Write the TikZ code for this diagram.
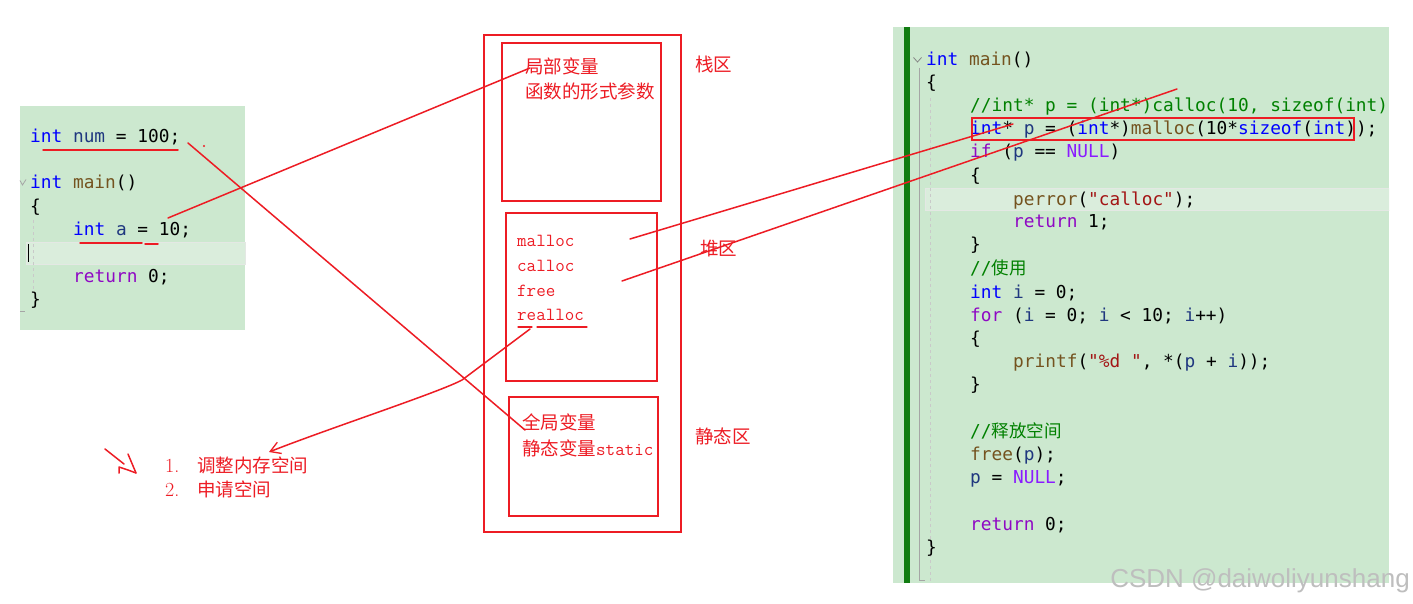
\documentclass[tikz,border=0pt]{standalone}
\usepackage{fontspec}
\newfontfamily\cjk{Noto Sans CJK SC}
\newfontfamily\codefont[Ligatures=TeXOff]{DejaVu Sans Mono}
\newfontfamily\wmfont{Liberation Sans}
\usetikzlibrary{arrows.meta}
\definecolor{bggreen}{RGB}{204,232,207}
\definecolor{hlgreen}{RGB}{218,237,220}
\definecolor{hlborder}{RGB}{228,232,228}
\definecolor{bargreen}{RGB}{16,124,16}
\definecolor{mkred}{RGB}{237,28,36}
\definecolor{kwblue}{RGB}{0,0,255}
\definecolor{fnbrown}{RGB}{116,83,31}
\definecolor{varblue}{RGB}{31,55,127}
\definecolor{ctlpurple}{RGB}{143,8,196}
\definecolor{macpurple}{RGB}{138,27,255}
\definecolor{strred}{RGB}{163,21,21}
\definecolor{comgreen}{RGB}{0,128,0}
\definecolor{guidegray}{RGB}{165,165,165}
\definecolor{wmgray}{RGB}{190,190,190}
\newcommand\ckw[1]{\textcolor{kwblue}{#1}}
\newcommand\cfn[1]{\textcolor{fnbrown}{#1}}
\newcommand\cvr[1]{\textcolor{varblue}{#1}}
\newcommand\cctl[1]{\textcolor{ctlpurple}{#1}}
\newcommand\cmac[1]{\textcolor{macpurple}{#1}}
\newcommand\cstr[1]{\textcolor{strred}{#1}}
\newcommand\ccom[1]{\textcolor{comgreen}{#1}}
\newcommand\ccj[1]{{\cjk\fontsize{17.5}{20}\selectfont #1}}
\tikzset{
  code/.style={anchor=base west, inner sep=0pt, text=black,
    font=\codefont\fontsize{17.8}{20}\selectfont},
  redcn/.style={anchor=base west, inner sep=0pt, text=mkred,
    font=\cjk\fontsize{18.5}{20}\selectfont},
  redtt/.style={anchor=base west, inner sep=0pt, text=mkred,
    font=\ttfamily\fontsize{18.5}{20}\selectfont},
  redrm/.style={anchor=base west, inner sep=0pt, text=mkred,
    font=\rmfamily\fontsize{20}{22}\selectfont},
  zone/.style={draw=mkred, line width=2.4pt},
  annot/.style={draw=mkred, line width=1.5pt, line cap=round, line join=round},
  guide/.style={draw=guidegray, line width=0.8pt},
}
\begin{document}
\begin{tikzpicture}[x=1pt,y=-1pt]
\useasboundingbox (0,0) rectangle (1413,604);
\fill[white] (0,0) rectangle (1413,604);

% ---------- left code panel ----------
\fill[bggreen] (20,106) rectangle (245,330);
\filldraw[fill=hlgreen, draw=hlborder, line width=1pt] (26,242) rectangle (245,264);
\draw[black, line width=1pt] (28,244) -- (28,262);
\draw[guide, dashed, draw=guidegray!60] (33,220) -- (33,290);
\draw[guide] (20,180.5) -- (22.5,185) -- (26,179.5);
\draw[guide] (20,311) -- (25,311);
\node[code] (l1) at (30,143) {\ckw{int} \cvr{num} = 100;};
\node[code] (l2) at (30,189) {\ckw{int} \cfn{main}()};
\node[code] (l3) at (30,213) {\{};
\node[code] (l4) at (73,236) {\ckw{int} \cvr{a} = 10;};
\node[code] (l5) at (73,282) {\cctl{return} 0;};
\node[code] (l6) at (30,305) {\}};

% ---------- memory diagram ----------
\draw[zone] (484,35) rectangle (681,532);
\draw[zone] (502,43) rectangle (661,201);
\draw[zone] (506,213) rectangle (657,381);
\draw[zone] (509,397) rectangle (658,516);
\node[redcn] (loc) at (525,74) {局部变量};
\node[redcn] (par) at (525,99) {函数的形式参数};
\node[redcn] (zhan) at (695,72) {栈区};
\node[redcn] (dui) at (700,255) {堆区};
\node[redcn] (jing) at (695,443) {静态区};
\node[redtt] (fm) at (517,246) {malloc};
\node[redtt] (fc) at (517,271) {calloc};
\node[redtt] (ff) at (517,296) {free};
\node[redtt] (fr) at (517,320) {realloc};
\node[redcn] (glob) at (522,429) {全局变量};
\node[redcn] (stat) at (522,455) {静态变量{\ttfamily\fontsize{18.5}{20}\selectfont static}};

% ---------- bottom-left notes ----------
\node[redrm] (n1) at (165,472) {1.};
\node[redcn] (t1) at (197,472) {调整内存空间};
\node[redrm] (n2) at (165,496) {2.};
\node[redcn] (t2) at (197,496) {申请空间};

% ---------- right code panel ----------
\fill[bggreen] (893,27) rectangle (1389,583);
\begin{scope}
\clip (893,27) rectangle (1389,583);
\filldraw[fill=hlgreen, draw=hlborder, line width=1pt] (925,189) rectangle (1395,211);
\fill[bargreen] (903.5,27) rectangle (909.5,583);
\draw[guide] (919,68) -- (919,580) -- (925,580);
\draw[guide, dashed, draw=guidegray!60] (930,98) -- (930,583);
\draw[guide, draw=guidegray!80!black] (913.5,57.5) -- (917.5,62) -- (921.5,57.5);
\end{scope}
\node[code] (r1) at (926,66) {\ckw{int} \cfn{main}()};
\node[code] (r2) at (926,89) {\{};
\node[code] (r3) at (970,112) {\ccom{//int* p = (int*)calloc(10, sizeof(int)}};
\node[code] (r4) at (970,135) {\ckw{int}* \cvr{p} = (\ckw{int}*)\cfn{malloc}(10*\ckw{sizeof}(\ckw{int}));};
\node[code] (r5) at (970,158) {\cctl{if} (\cvr{p} == \cmac{NULL})};
\node[code] (r6) at (970,182) {\{};
\node[code] (r7) at (1013,205) {\cfn{perror}(\cstr{"calloc"});};
\node[code] (r8) at (1013,228) {\cctl{return} 1;};
\node[code] (r9) at (970,251) {\}};
\node[code] (r10) at (970,274) {\ccom{//\ccj{使用}}};
\node[code] (r11) at (970,298) {\ckw{int} \cvr{i} = 0;};
\node[code] (r12) at (970,321) {\cctl{for} (\cvr{i} = 0; \cvr{i} < 10; \cvr{i}++)};
\node[code] (r13) at (970,344) {\{};
\node[code] (r14) at (1013,367) {\cfn{printf}(\cstr{"\%d "}, *(\cvr{p} + \cvr{i}));};
\node[code] (r15) at (970,390) {\}};
\node[code] (r16) at (970,437) {\ccom{//\ccj{释放空间}}};
\node[code] (r17) at (970,460) {\cfn{free}(\cvr{p});};
\node[code] (r18) at (970,483) {\cvr{p} = \cmac{NULL};};
\node[code] (r19) at (970,530) {\cctl{return} 0;};
\node[code] (r20) at (926,553) {\}};
\draw[mkred, line width=2pt] (972,118) rectangle (1354,140);

% ---------- annotation strokes ----------
\coordinate (u1a) at (43,150);   \coordinate (u1b) at (178,150);
\coordinate (u2a) at (80,243);   \coordinate (u2b) at (142,243);
\coordinate (u2c) at (145,244);  \coordinate (u2d) at (158,244);
\coordinate (a1) at (168,218);   \coordinate (a2) at (530,68);
\coordinate (b1) at (188,143);   \coordinate (b2) at (525,430);
\coordinate (dot) at (204,146);
\coordinate (c1) at (630,239);   \coordinate (c2) at (1013,124);
\coordinate (d1) at (622,281);   \coordinate (d2) at (1177,89);
\coordinate (ru1) at (518,327);  \coordinate (ru2) at (532,327);
\coordinate (ru3) at (537,327);  \coordinate (ru4) at (587,327);
\coordinate (rs) at (530,329);   \coordinate (rk) at (462,380);
\coordinate (re) at (269,452);
\draw[annot] (u1a) -- (u1b);
\draw[annot] (u2a) -- (u2b);
\draw[annot] (u2c) -- (u2d);
\draw[annot] (a1) -- (a2);
\draw[annot] (b1) -- (b2);
\fill[mkred] (dot) circle (1.1);
\draw[annot] (c1) -- (c2);
\draw[annot] (d1) -- (d2);
\draw[annot, line width=1.2pt] (ru1) -- (ru2);
\draw[annot, line width=1.2pt] (ru3) -- (ru4);
\draw[annot, -{Straight Barb[length=10pt,width=12pt,line width=1.3pt]}]
  (rs) -- (rk) .. controls (440,392) and (330,428) .. (re);
% scribble arrow
\coordinate (s1) at (105,449); \coordinate (s2) at (124,464);
\coordinate (s3) at (128,454); \coordinate (s4) at (136,473);
\coordinate (s5) at (119,473); \coordinate (s6) at (119,467);
\coordinate (s7) at (128,470);
\draw[annot] (s1) -- (s2);
\draw[annot] (s3) -- (s4);
\draw[annot] (s5) -- (s6) -- (s7) -- (s4);

% ---------- watermark ----------
\node[anchor=base east, inner sep=0pt, text=wmgray,
  font=\wmfont\fontsize{26}{28}\selectfont] (wm) at (1410,587) {CSDN @daiwoliyunshang};
\end{tikzpicture}
\end{document}
